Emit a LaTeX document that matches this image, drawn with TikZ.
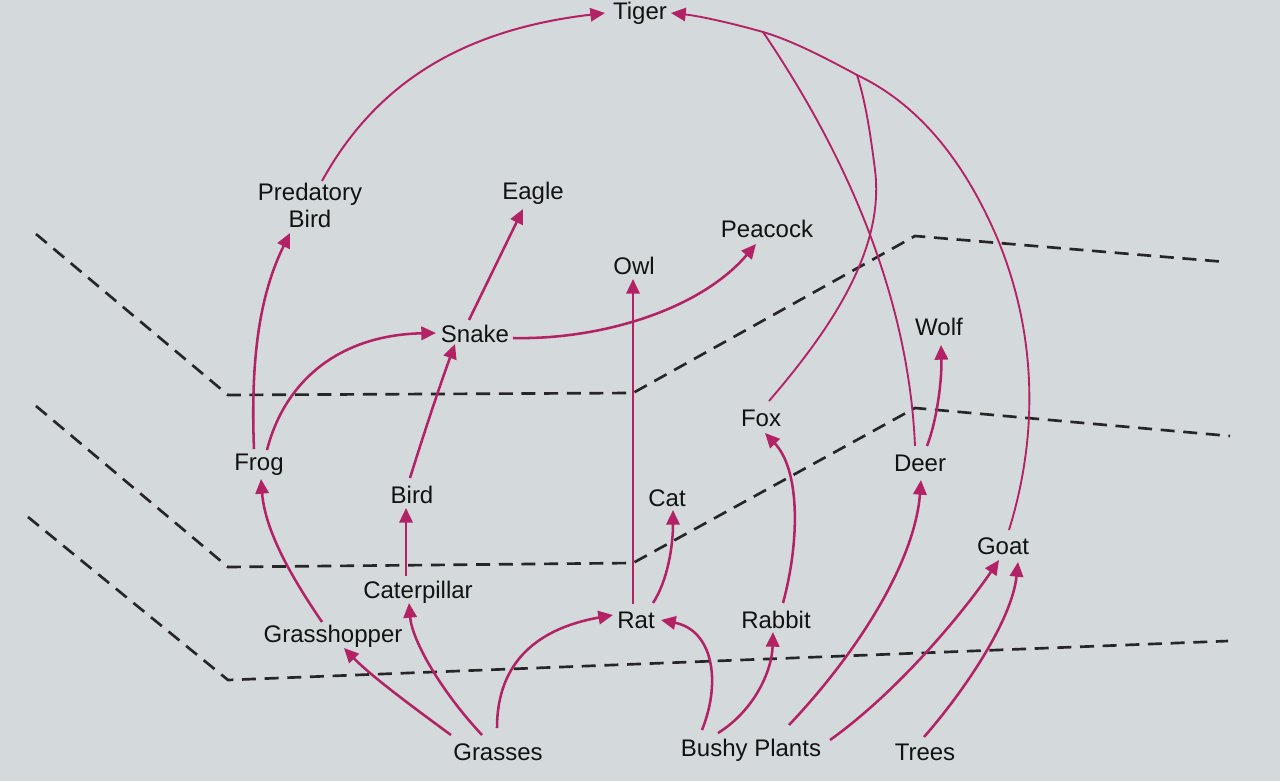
\documentclass[tikz,border=0pt]{standalone}
\usepackage{fontspec}
\setmainfont{Liberation Sans}
\usetikzlibrary{arrows.meta,calc}
\definecolor{webc}{RGB}{178,34,100}
\definecolor{bgc}{RGB}{212,217,219}
\definecolor{txc}{RGB}{18,18,18}
\tikzset{
  lab/.style={inner sep=0pt,outer sep=0pt,text=txc,align=center,
    font=\fontsize{18}{20.25}\selectfont},
  feed/.style={draw=webc,line width=1.9pt,-{Triangle[length=11pt,width=10pt]}},
  thinfeed/.style={draw=webc,line width=1.4pt},
  level/.style={draw=black!85,line width=2pt,dash pattern=on 10.5pt off 6.5pt}
}
\begin{document}
\begin{tikzpicture}[x=0.75pt,y=-0.75pt]
\useasboundingbox (0,0) rectangle (1280,781);
\fill[bgc] (0,0) rectangle (1280,781);

% trophic level separators
\draw[level] (36,234) -- (228,395) -- (633,393) -- (915,236) -- (1226,262);
\draw[level] (36,406) -- (228,567) -- (633,563) -- (915,408) -- (1230,436);
\draw[level] (28,517) -- (228,680) -- (1228,641);

% organisms
\node[lab] (tiger) at (640,13) {Tiger};
\node[lab] (pbird) at (310,205) {Predatory\\Bird};
\node[lab] (eagle) at (533,193) {Eagle};
\node[lab] (peacock) at (767,229) {Peacock};
\node[lab] (owl) at (634,266) {Owl};
\node[lab] (snake) at (475,334) {Snake};
\node[lab] (wolf) at (939,327) {Wolf};
\node[lab] (fox) at (761,418) {Fox};
\node[lab] (frog) at (259,465) {Frog};
\node[lab] (bird) at (412,495) {Bird};
\node[lab] (deer) at (920,463) {Deer};
\node[lab] (cat) at (667,498) {Cat};
\node[lab] (goat) at (1003,546) {Goat};
\node[lab] (caterpillar) at (418,592) {Caterpillar};
\node[lab] (grasshopper) at (333,636) {Grasshopper};
\node[lab] (rat) at (636,620) {Rat};
\node[lab] (rabbit) at (776,620) {Rabbit};
\node[lab] (grasses) at (498,752) {Grasses};
\node[lab] (bushy) at (751,750) {Bushy Plants};
\node[lab] (trees) at (925,752) {Trees};

% merge points on the arc into Tiger
\coordinate (mA) at (763,32);
\coordinate (mB) at (857,75);

% producers -> herbivores
\draw[feed] ($(grasses)+(-47,-17)$) .. controls (410,705) and (370,675) .. ($(grasshopper)+(11,12)$);
\draw[feed] ($(grasses)+(-16,-17)$) .. controls (440,690) and (412,640) .. ($(caterpillar)+(-9,11)$);
\draw[feed] ($(grasses)+(-1,-24)$) .. controls (497,660) and (540,628) .. ($(rat)+(-23,-5)$);
\draw[feed] ($(bushy)+(-49,-20)$) .. controls (722,680) and (712,630) .. ($(rat)+(25,0)$);
\draw[feed] ($(bushy)+(-33,-17)$) .. controls (755,710) and (772,670) .. ($(rabbit)+(-3,12)$);
\draw[feed] ($(bushy)+(38,-25)$) .. controls (860,650) and (915,560) .. ($(deer)+(1,17)$);
\draw[feed] ($(bushy)+(79,-10)$) .. controls (900,690) and (965,610) .. ($(goat)+(-4,14)$);
\draw[feed] ($(trees)+(-1,-15)$) .. controls (965,690) and (1012,620) .. ($(goat)+(15,16)$);

% herbivores -> primary carnivores
\draw[feed] ($(grasshopper)+(-11,-14)$) .. controls (290,575) and (265,530) .. ($(frog)+(2,14)$);
\draw[feed] ($(caterpillar)+(-12,-16)$) -- ($(bird)+(-6,13)$);
\draw[feed] ($(rat)+(17,-17)$) .. controls (668,580) and (673,545) .. ($(cat)+(6,12)$);
\draw[feed] ($(rat)+(-3,-16)$) -- ($(owl)+(-1,13)$);
\draw[feed] ($(rabbit)+(7,-17)$) .. controls (800,540) and (800,470) .. ($(fox)+(4,15)$);
\draw[feed] ($(deer)+(7,-17)$) .. controls (937,420) and (942,380) .. ($(wolf)+(2,18)$);

% primary -> secondary carnivores
\draw[feed] ($(frog)+(-5,-16)$) .. controls (250,350) and (262,290) .. ($(pbird)+(-20,28)$);
\draw[feed] ($(frog)+(8,-15)$) .. controls (285,380) and (340,335) .. ($(snake)+(-39,-1)$);
\draw[feed] ($(bird)+(-2,-17)$) .. controls (425,430) and (440,385) .. ($(snake)+(-20,10)$);
\draw[feed] ($(snake)+(-6,-14)$) -- ($(eagle)+(-10,16)$);
\draw[feed] ($(snake)+(38,4)$) .. controls (600,340) and (700,310) .. ($(peacock)+(-11,15)$);

% -> Tiger
\draw[feed,line width=1.5pt] ($(pbird)+(12,-24)$) .. controls (375,85) and (460,30) .. ($(tiger)+(-35,0)$);
\draw[thinfeed,-{Triangle[length=11pt,width=10pt]}] ($(goat)+(6,-16)$) .. controls (1040,430) and (1035,330) .. (998,240)
   .. controls (960,150) and (910,100) .. (mB)
   .. controls (820,55) and (790,40) .. (mA)
   .. controls (735,24) and (700,16) .. ($(tiger)+(31,0)$);
\draw[thinfeed] ($(fox)+(8,-17)$) .. controls (830,330) and (885,250) .. (875,170)
   .. controls (870,130) and (865,100) .. (mB);
\draw[thinfeed] ($(deer)+(-5,-17)$) .. controls (910,330) and (870,190) .. (mA);
\end{tikzpicture}
\end{document}
